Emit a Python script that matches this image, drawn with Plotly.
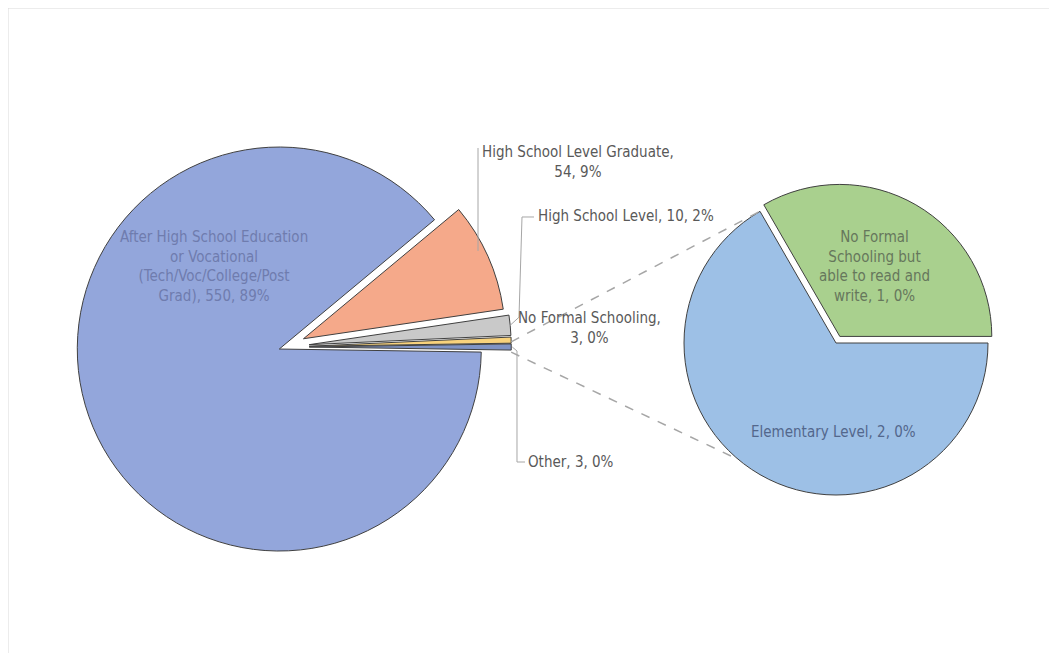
import math
import plotly.graph_objects as go

# ---------------- data ----------------
main_labels = ["After High School Education or Vocational (Tech/Voc/College/Post Grad)",
               "High School Level Graduate",
               "High School Level",
               "No Formal Schooling"]
main_values = [550, 54, 10, 3]

sub_labels = ["Elementary Level", "No Formal Schooling but able to read and write"]
sub_values = [2, 1]

other_label = "Other"
other_value = sum(sub_values)

pie_labels = main_labels + [other_label]
pie_values = main_values + [other_value]
total = sum(pie_values)

main_colors = ["#93A6DB", "#F5A98A", "#C9C9C9", "#F8D27C", "#7F93C4"]
sub_colors = ["#9DC0E6", "#A9D08E"]
main_pull = [0.03, 0.10, 0.12, 0.12, 0.12]
sub_pull = [0.0, 0.05]

# page body has an 8px margin; the figure is placed at (8, 8)
OFF = 8
W, H = 1057 - 2 * OFF, 661 - 2 * OFF


def px(x):
    return (x - OFF) / W


def py(y):
    return 1 - (y - OFF) / H


def pct(v):
    return f"{round(100 * v / total)}%"


# ---------------- geometry (window pixels) ----------------
MC = (285, 347)   # main pie centre
MR = 202          # main pie radius
SC = (836, 343)   # secondary pie centre
SR = 152          # secondary pie radius


def domain(c, r, pulls):
    half = r * (1 + max(pulls))
    return dict(x=[px(c[0] - half), px(c[0] + half)],
                y=[py(c[1] + half), py(c[1] - half)])


other_deg = 360 * other_value / total
main_rotation = 90 + other_deg / 2

fig = go.Figure()
fig.add_trace(go.Pie(
    labels=pie_labels, values=pie_values, sort=False, direction="clockwise",
    rotation=main_rotation, pull=main_pull, textinfo="none",
    marker=dict(colors=main_colors, line=dict(color="#404040", width=1)),
    domain=domain(MC, MR, main_pull), showlegend=False))

fig.add_trace(go.Pie(
    labels=sub_labels, values=sub_values, sort=False, direction="clockwise",
    rotation=90, pull=sub_pull, textinfo="none",
    marker=dict(colors=sub_colors, line=dict(color="#404040", width=1)),
    domain=domain(SC, SR, sub_pull), showlegend=False))


# helper: point on main pie slice i at clockwise angle ang (deg from 12 o'clock)
def slice_point(i, ang, rad=MR):
    start = main_rotation + 360 * sum(pie_values[:i]) / total
    mid = math.radians(start + 180 * pie_values[i] / total)
    ox = main_pull[i] * MR * math.sin(mid)
    oy = -main_pull[i] * MR * math.cos(mid)
    a = math.radians(ang)
    return (MC[0] + ox + rad * math.sin(a), MC[1] + oy - rad * math.cos(a))


oth_idx = 4
oth_start = main_rotation + 360 * sum(pie_values[:oth_idx]) / total
p_top = slice_point(oth_idx, oth_start - 0.6)
p_bot = slice_point(oth_idx, oth_start + other_deg + 0.6)
q_top = (SC[0] + SR * math.sin(math.radians(-30)), SC[1] - SR * math.cos(math.radians(-30)))
q_bot = (SC[0] + SR * math.sin(math.radians(220)), SC[1] - SR * math.cos(math.radians(220)))

shapes = []
for a, b in [(p_top, q_top), (p_bot, q_bot)]:
    shapes.append(dict(type="line", xref="paper", yref="paper",
                       x0=px(a[0]), y0=py(a[1]), x1=px(b[0]), y1=py(b[1]),
                       line=dict(color="#A6A6A6", width=1.5, dash="dash")))


def path(pts):
    return "M " + " L ".join(f"{px(x):.5f},{py(y):.5f}" for x, y in pts)


lead = dict(color="#A6A6A6", width=1)
# HS graduate leader
g_start = main_rotation + 360 * sum(pie_values[:1]) / total
gx = 478
hs_pt = slice_point(1, g_start + 14)
shapes.append(dict(type="path", xref="paper", yref="paper",
                   path=path([(gx, 148), (gx, hs_pt[1])]), line=lead))
# HS level leader
l_start = main_rotation + 360 * sum(pie_values[:2]) / total
hl_pt = slice_point(2, l_start + 180 * pie_values[2] / total)
shapes.append(dict(type="path", xref="paper", yref="paper",
                   path=path([(534, 217), (522, 217), (519, hl_pt[1] - 8), hl_pt]), line=lead))
# Other leader
o_pt = slice_point(4, oth_start + other_deg / 2)
shapes.append(dict(type="path", xref="paper", yref="paper",
                   path=path([(525, 462), (517, 462), (517, o_pt[1] + 4), (o_pt[0] + 1, o_pt[1])]),
                   line=lead))
# outer border
shapes.append(dict(type="rect", xref="paper", yref="paper",
                   x0=px(8), y0=py(661), x1=px(1051), y1=py(8),
                   line=dict(color="#D9D9D9", width=1)))

FONT = "Liberation Sans Narrow, Arial Narrow, DejaVu Sans Condensed, sans-serif"
anns = []


def ann(text, x, y, color, xanchor="center", size=15):
    anns.append(dict(text=text, x=px(x), y=py(y), xref="paper", yref="paper",
                     xanchor=xanchor, yanchor="middle", showarrow=False,
                     font=dict(family=FONT, size=size, color=color), align="center"))


ann(f"After High School Education<br>or Vocational<br>(Tech/Voc/College/Post<br>Grad), {main_values[0]}, {pct(main_values[0])}",
    214, 266, "#6F7CAE")
ann(f"{main_labels[1]},<br>{main_values[1]}, {pct(main_values[1])}", 578, 162, "#595959")
ann(f"{main_labels[2]}, {main_values[2]}, {pct(main_values[2])}", 536, 216, "#595959", xanchor="left")
ann(f"{main_labels[3]},<br>{main_values[3]}, {pct(main_values[3])}", 589, 328, "#595959")
ann(f"{other_label}, {other_value}, {pct(other_value)}", 526, 462, "#595959", xanchor="left")
ann(f"No Formal<br>Schooling but<br>able to read and<br>write, {sub_values[1]}, {pct(sub_values[1])}",
    874, 266, "#66775C")
ann(f"{sub_labels[0]}, {sub_values[0]}, {pct(sub_values[0])}", 833, 432, "#53678C")

fig.update_layout(width=W, height=H, margin=dict(l=0, r=0, t=0, b=0),
                  paper_bgcolor="white", plot_bgcolor="white",
                  shapes=shapes, annotations=anns)

fig.write_html("out.html")
